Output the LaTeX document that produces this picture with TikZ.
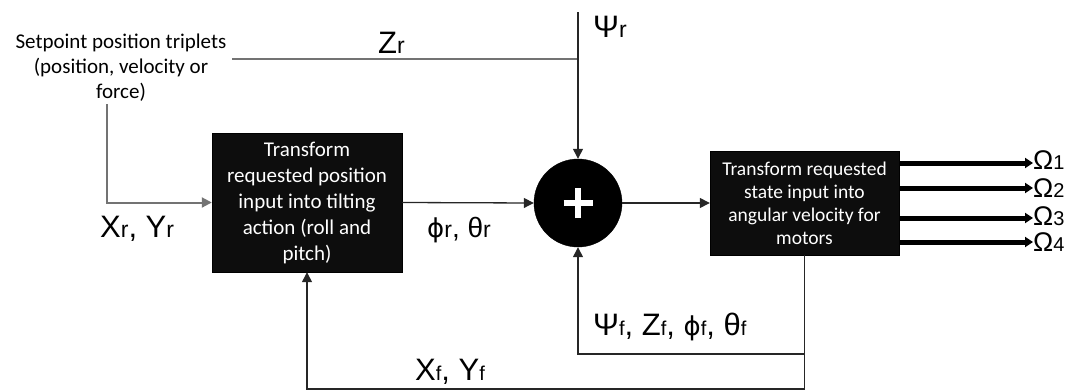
\documentclass[tikz,border=0pt]{standalone}
\usepackage{fontspec}
\setmainfont{Liberation Sans}
\newfontfamily\calfont{Carlito}
\newfontfamily\djfont{DejaVu Sans}
\usetikzlibrary{arrows.meta}
\newcommand\lo[1]{{\fontsize{23}{23}\selectfont #1}}
\newcommand\los[1]{{\fontsize{20}{20}\selectfont #1}}
\newcommand\phig{{\djfont\fontsize{26}{26}\selectfont ϕ}}
\begin{document}
\begin{tikzpicture}[x=1pt,y=-1pt,
  blk/.style={draw=black, fill=black!95, text=white, inner sep=0, align=center},
  lab/.style={inner sep=0, anchor=base west, font=\fontsize{31}{31}\selectfont, text=black},
  ln/.style={draw=black!85, line width=1.3pt},
  gln/.style={draw=black!55, line width=2pt},
  tip/.style={-{Triangle[length=10pt,width=10pt]}},
  thk/.style={draw=black, line width=5pt, -{Triangle[length=8pt,width=10pt]}},
  ]
\useasboundingbox (0,0) rectangle (1074,391);
% blocks
\node[blk, minimum width=190pt, minimum height=139pt,
      font=\calfont\fontsize{21}{26}\selectfont] (box1) at (307,202.5)
  {Transform\\requested position\\input into tilting\\action (roll and\\pitch)};
\node[blk, minimum width=189pt, minimum height=104pt,
      font=\calfont\fontsize{19.5}{23}\selectfont] (box2) at (804.5,203)
  {Transform requested\\state input into\\angular velocity for\\motors};
\node[circle, fill=black, draw=black, minimum size=88pt, inner sep=0] (sum) at (578,203) {};
\draw[white, line width=6pt] ([xshift=-14.5pt]sum.center) -- ([xshift=14.5pt]sum.center);
\draw[white, line width=6pt] ([yshift=-15pt]sum.center) -- ([yshift=15pt]sum.center);
% setpoint text
\node[font=\calfont\fontsize{21}{25}\selectfont, align=center, inner sep=0] (sp) at (121,68)
  {Setpoint position triplets\\(position, velocity or\\force)};
% labels
\node[lab] (zr) at (378,53) {Z\lo{r}};
\node[lab] (psir) at (593,37) {Ψ\lo{r}};
\node[lab] (xr) at (100,237) {X\lo{r}, Y\lo{r}};
\node[lab, font=\fontsize{28}{28}\selectfont] (phr) at (427,237) {\phig\lo{r}, θ\lo{r}};
\node[lab] (psif) at (593,335) {Ψ\los{f}, Z\los{f}, \phig\los{f}, θ\los{f}};
\node[lab] (xf) at (415,380) {X\los{f}, Y\los{f}};
\foreach \i/\y/\b in {1/163/169,2/188/197,3/218/225,4/242/251}{
  \node[lab, font=\fontsize{27}{27}\selectfont, text height=19pt, text depth=0pt] (om\i) at (1033,\b) {Ω\los{\i}};
}
% coordinates
\coordinate (zstart) at (232,59);
\coordinate (psitop) at (578,12);
\coordinate (spfoot) at (107,104);
\coordinate (fbA) at (804.5,354);
\coordinate (fbB) at (804.5,389);
% connectors
\draw[gln] (zstart) -- (zstart -| sum.center);
\draw[ln, tip] (psitop) -- (sum.north);
\draw[gln, tip] (spfoot) |- (box1.west);
\draw[ln, tip] (box1.east) -- (sum.west);
\draw[ln, tip] (sum.east) -- (box2.west);
\draw[ln, tip] (box2.south) -- (fbB) -| (box1.south);
\draw[ln, tip] (fbA) -| (sum.south);
\foreach \i/\y in {1/163,2/188,3/218,4/242}{
  \draw[thk] (box2.east |- 0,\y) -- (om\i.west |- 0,\y);
}
\end{tikzpicture}
\end{document}
